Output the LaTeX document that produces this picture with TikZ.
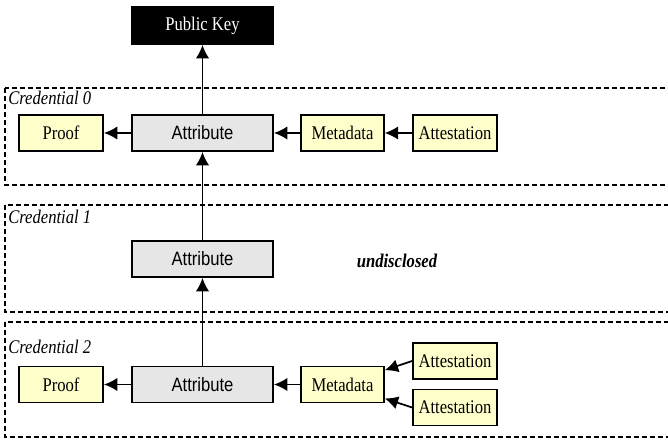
\documentclass[tikz,border=0pt]{standalone}
\usepackage{fontspec}
\setmainfont[FakeStretch=0.86]{Liberation Serif}
\setsansfont[FakeStretch=0.86]{Liberation Sans}
\usepackage{tikz}
\usetikzlibrary{arrows.meta}
\tikzset{>={Latex[length=10pt,width=10pt]}}
\definecolor{note yellow}{HTML}{FFFFCC}
\definecolor{attr gray}{HTML}{E6E6E6}
\tikzset{
    box/.style={draw, line width=1.4pt, minimum height=27pt, inner sep=1pt, font=\fontsize{14.5}{16}\selectfont},
    yellowbox/.style={box, fill=note yellow},
    attrbox/.style={box, fill=attr gray, minimum width=105.75pt, font=\sffamily\fontsize{14.5}{16}\selectfont},
    credframe/.style={draw, line width=1pt, dash pattern=on 3.5pt off 2.5pt},
    credlabel/.style={anchor=north west, inner sep=0pt, font=\itshape\fontsize{14.5}{16}\selectfont},
    link/.style={->, line width=1.3pt}
}

\begin{document}
\begin{tikzpicture}[x=0.75pt, y=-0.75pt]
        \useasboundingbox (0, 0) rectangle (668, 441);
        \clip (0, 0) rectangle (668, 441);
        % credential frames
        \draw[credframe] (5, 88) rectangle (690, 185);
        \draw[credframe] (5, 205) rectangle (690, 312);
        \draw[credframe] (5, 322) rectangle (690, 437);
        \node[credlabel] (lab0) at (8, 91) {Credential 0};
        \node[credlabel] (lab1) at (8, 210) {Credential 1};
        \node[credlabel] (lab2) at (8, 340) {Credential 2};
        % public key
        \node[box, fill=black, text=white, minimum width=105.75pt, minimum height=27.75pt] (pubkey) at (202.5, 25.5) {Public Key};
        % credential 0
        \node[yellowbox, minimum width=63pt] (proof0) at (61, 133) {Proof};
        \node[attrbox] (attr0) at (202.5, 133) {Attribute};
        \node[yellowbox, minimum width=62pt] (meta0) at (342.5, 133) {Metadata};
        \node[yellowbox, minimum width=63pt] (attest0) at (455, 133) {Attestation};
        % credential 1
        \node[attrbox] (attr1) at (202.5, 259) {Attribute};
        \node[font=\bfseries\itshape\fontsize{14.5}{16}\selectfont] (hidden1) at (397, 261) {undisclosed};
        % credential 2
        \node[yellowbox, minimum width=63pt] (proof2) at (61, 384.5) {Proof};
        \node[attrbox] (attr2) at (202.5, 384.5) {Attribute};
        \node[yellowbox, minimum width=62pt] (meta2) at (342.5, 384.5) {Metadata};
        \node[yellowbox, minimum width=63pt] (attest2a) at (455, 361) {Attestation};
        \node[yellowbox, minimum width=63pt] (attest2b) at (455, 407.5) {Attestation};
        % links
        \draw[link] (attr0) -- (pubkey);
        \draw[link] (attr1) -- (attr0);
        \draw[link] (attr2) -- (attr1);
        \draw[link] (attr0) -- (proof0);
        \draw[link] (meta0) -- (attr0);
        \draw[link] (attest0) -- (meta0);
        \draw[link] (attr2) -- (proof2);
        \draw[link] (meta2) -- (attr2);
        \draw[link] (attest2a.west) -- (meta2);
        \draw[link] (attest2b.west) -- (meta2);
    \end{tikzpicture}
\end{document}
